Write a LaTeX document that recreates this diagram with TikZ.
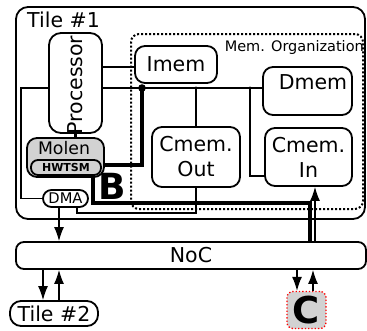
\documentclass[tikz,border=0pt]{standalone}
\usepackage{fontspec}
\setmainfont{DejaVu Sans}
\usetikzlibrary{arrows.meta}
\begin{document}
\begin{tikzpicture}[x=1pt,y=-1pt,
  box/.style={draw, line width=1.8pt, rounded corners=10pt, fill=white, inner sep=0pt},
  wire/.style={line width=1.3pt},
  fat/.style={line width=3.5pt},
  arr/.style={line width=1.3pt, -{Latex[length=14pt,width=10pt]}},
  big/.style={font=\fontsize{20.5}{25}\selectfont},
]
\useasboundingbox (0,0) rectangle (367,330);

% tile outline and memory organisation frame
\node[box, fill=none, rounded corners=12pt, minimum width=349pt, minimum height=212pt] (tile1) at (190.5,113) {};
\node[anchor=base west, big, inner sep=0pt] (tile1lbl) at (27,27) {Tile \#1};
\node[draw, dotted, line width=2pt, rounded corners=8pt, minimum width=232pt, minimum height=175pt] (memorg) at (247,121.5) {};
\node[anchor=base east, inner sep=0pt, font=\fontsize{14.5}{16}\selectfont] (memlbl) at (364,51) {Mem. Organization};

% functional blocks
\node[box, rounded corners=12pt, minimum width=53pt, minimum height=100pt] (proc) at (75.5,83) {};
\node[big, rotate=90, inner sep=0pt] (proclbl) at (75,85) {Processor};
\node[box, big, minimum width=82pt, minimum height=37pt] (imem) at (176,64.5) {Imem};
\node[box, minimum width=89pt, minimum height=48pt] (dmem) at (307.5,91) {};
\node[big, inner sep=0pt] (dmemlbl) at (313,82.5) {Dmem};
\node[box, font=\fontsize{20.5}{25}\selectfont, align=center, minimum width=88pt, minimum height=60pt] (cout) at (196,157) {Cmem.\\Out};
\node[box, font=\fontsize{20.5}{25}\selectfont, align=center, minimum width=87pt, minimum height=58pt] (cin) at (308.5,157) {Cmem.\\In};

\node[box, fill=gray!35, minimum width=77pt, minimum height=39pt] (molen) at (65.5,157.5) {};
\node[inner sep=0pt, font=\fontsize{17.3}{19}\selectfont] (molenlbl) at (64,148) {Molen};
\node[box, fill=gray!35, rounded corners=7pt, minimum width=70pt, minimum height=15pt, font=\fontsize{11}{12}\bfseries] (hwtsm) at (66,167.5) {HWTSM};

\node[box, rounded corners=8.5pt, minimum width=45pt, minimum height=17pt, font=\fontsize{14.7}{16}\selectfont] (dma) at (65.5,198.5) {DMA};
\node[inner sep=0pt, font=\fontsize{36}{36}\bfseries] (blbl) at (112,186) {B};

\node[box, big, rounded corners=8pt, minimum width=350pt, minimum height=27pt] (noc) at (191,255.5) {NoC};
\node[box, big, rounded corners=11pt, minimum width=88pt, minimum height=25pt] (tile2) at (54,313.5) {Tile \#2};
\node[draw=red, dotted, line width=1.3pt, fill=gray!35, rounded corners=6pt, minimum width=39pt, minimum height=37pt, inner sep=0pt, font=\fontsize{37}{37}\bfseries] (cnode) at (306.5,310) {C};

% helper coordinates
\coordinate (bus) at (0,88);
\coordinate (pi) at (0,67);
\coordinate (lb) at (21,88);
\coordinate (jB) at (142,88);
\coordinate (bk) at (142,165);
\coordinate (jIn) at (250,88);
\coordinate (inT) at (250,176);
\coordinate (m2) at (93,203);
\coordinate (m3) at (310,203);
\coordinate (xin) at (315,0);
\coordinate (dr) at (77,213);
\coordinate (xd) at (59,0);
\coordinate (x1) at (43,0);
\coordinate (x2) at (59,0);
\coordinate (c1) at (297,0);
\coordinate (c2) at (313,0);

% local bus and memory links
\draw[wire] (proc.east |- pi) -- (imem.west |- pi);
\draw[wire] (proc.east |- bus) -- (dmem.west |- bus);
\draw[wire] (proc.west |- bus) -- (lb) |- (dma.west);
\draw[wire] (cout.north |- bus) -- (cout.north);
\draw[wire] (jIn) -- (inT) -- (inT -| cin.west);
\draw[wire] (cout.south) |- (dr) -- (dr |- dma.south);
\draw[line width=3pt] (proc.south) -- (proc.south |- molen.north);
\fill (jB) circle (3.8pt);
\fill (cout.north |- bus) circle (1.7pt);
\fill (jIn) circle (1.7pt);

% Molen paths
\draw[fat] (jB) -- (bk) -- (bk -| molen.east);
\draw[fat] (m2 |- molen.south) -- (m2) -- (m3) -- (m3 |- noc.north);
\draw[arr] (noc.north -| xin) -- (cin.south -| xin);

% network connections
\draw[arr] (dma.south -| xd) -- (noc.north -| xd);
\draw[arr] (noc.south -| x1) -- (tile2.north -| x1);
\draw[arr] (tile2.north -| x2) -- (noc.south -| x2);
\draw[arr] (noc.south -| c1) -- (cnode.north -| c1);
\draw[arr] (cnode.north -| c2) -- (noc.south -| c2);
\end{tikzpicture}
\end{document}
